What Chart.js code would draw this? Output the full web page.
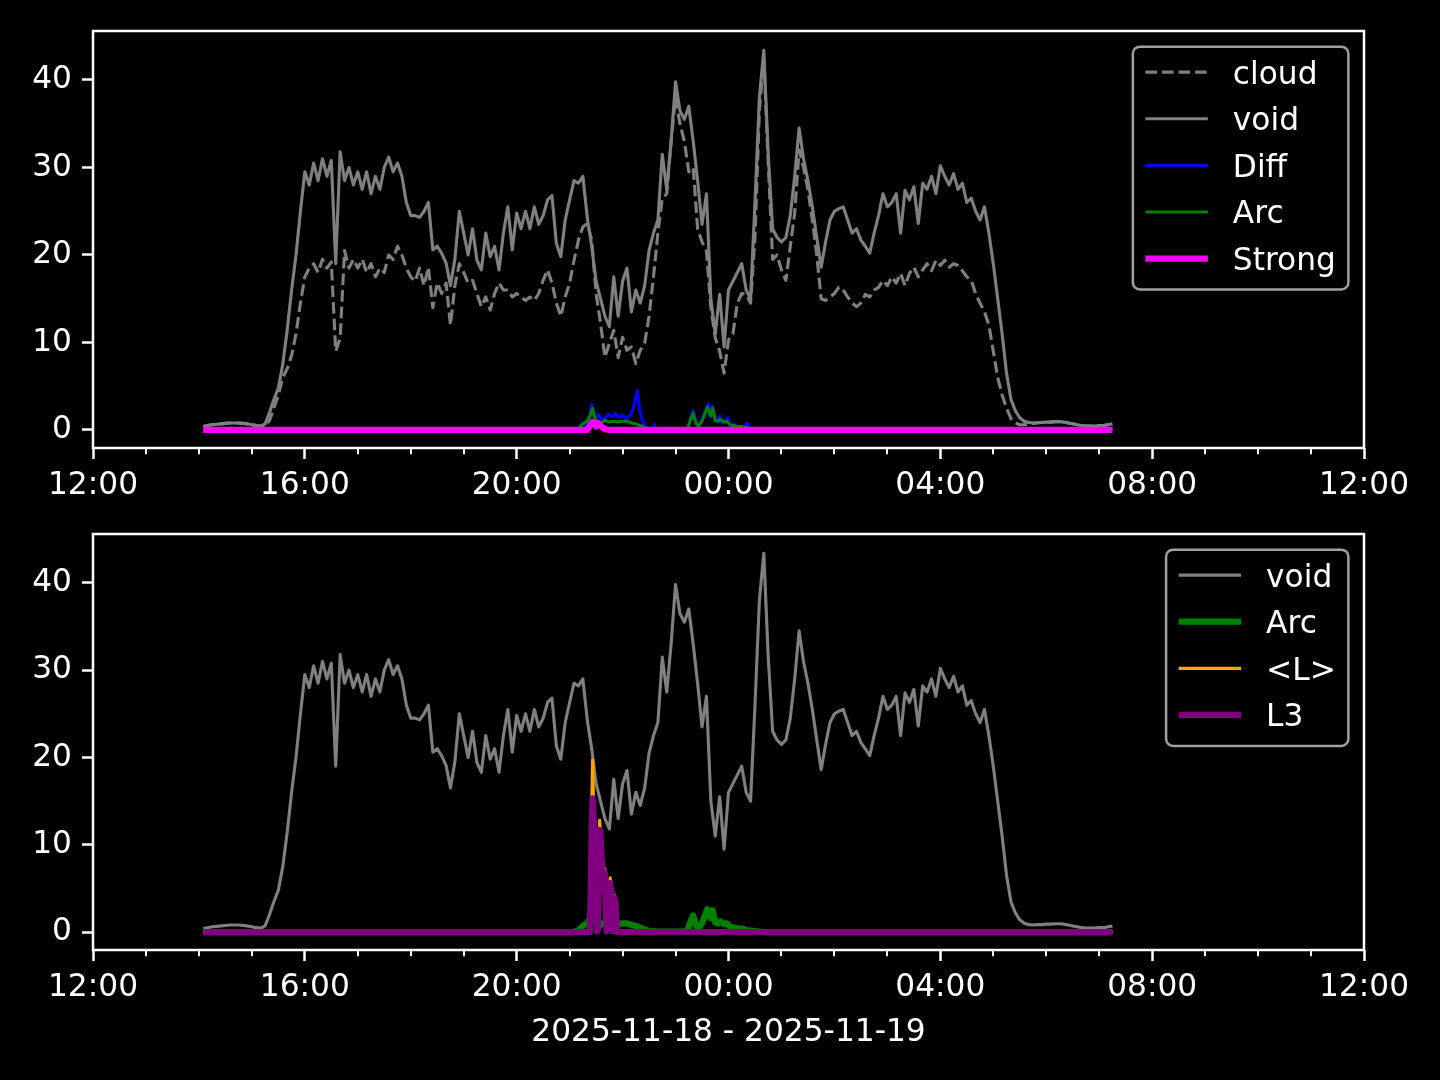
<!DOCTYPE html>
<html><head><meta charset="utf-8">
<script src="https://cdn.jsdelivr.net/npm/chart.js@4.4.1/dist/chart.umd.min.js"></script>
<style>
html,body{margin:0;padding:0;background:#000;width:1440px;height:1080px;overflow:hidden}
canvas{position:absolute;left:0}
#c1{top:0}
#c2{top:490px}
</style></head><body>
<canvas id="c1" width="1440" height="520"></canvas>
<canvas id="c2" width="1440" height="590"></canvas>
<script>
// ---------------- data ----------------
const gridStart = '14:05';      // first sample of the 5-minute series
const gridStepMin = 5;

const voidValues = [
  0.4,0.5,0.6,0.65,0.7,0.75,0.8,0.8,0.8,0.75,0.7,0.6,          // 14:05-15:00
  0.5,0.45,0.7,2.0,3.5,4.8,7.5,11.4,16.0,20.0,25.0,29.5,         // 15:05-16:00
  28.0,30.5,28.5,31.0,29.0,30.8,19.0,31.8,28.5,30.0,28.0,29.5,   // 16:05-17:00
  27.5,29.5,27.0,29.0,27.5,30.0,31.2,29.5,30.5,29.0,26.0,24.5,   // 17:05-18:00
  24.5,24.3,25.0,26.0,20.6,21.0,20.2,19.1,16.5,19.5,25.0,22.5,   // 18:05-19:00
  20.0,23.0,19.4,18.3,22.5,19.8,21.0,18.3,22.5,25.5,20.6,24.8,   // 19:05-20:00
  23.0,25.0,23.0,25.5,23.5,24.5,26.3,26.8,21.3,19.8,24.0,26.3,   // 20:05-21:00
  28.5,28.2,29.0,24.3,21.0,17.0,15.0,13.0,11.8,17.5,13.0,17.0,   // 21:05-22:00
  18.5,13.5,16.0,14.5,16.5,20.5,22.5,24.0,31.5,27.5,33.0,39.8,   // 22:05-23:00
  36.5,35.5,37.0,33.0,28.5,23.5,27.0,15.0,11.0,15.5,9.5,16.0,    // 23:05-00:00
  17.0,18.0,19.0,16.0,15.0,26.0,38.0,43.4,31.5,23.0,22.0,21.5,   // 00:05-01:00
  22.0,24.5,29.0,34.5,31.0,28.5,25.5,22.0,18.6,21.5,24.0,25.0,   // 01:05-02:00
  25.3,25.5,24.0,22.5,23.0,21.7,21.0,20.2,22.5,24.5,27.0,25.5,   // 02:05-03:00
  26.0,27.0,22.5,27.4,26.3,27.8,23.6,28.2,27.5,29.0,27.0,30.2,   // 03:05-04:00
  29.0,28.0,29.3,27.5,28.2,26.0,26.5,25.0,24.0,25.5,22.5,19.0,   // 04:05-05:00
  15.0,11.0,6.5,3.5,2.2,1.4,1.0,0.85,0.8,0.85,0.85,0.9,          // 05:05-06:00
  0.9,0.95,0.95,0.9,0.8,0.7,0.6,0.5,0.45,0.45,0.45,0.5,          // 06:05-07:00
  0.5,0.6,0.7                                                     // 07:05-07:15
];
const cloudValues = [
  0.4,0.5,0.6,0.65,0.7,0.75,0.8,0.8,0.8,0.75,0.7,0.6,
  0.5,0.45,0.4,1.1,2.5,4.0,6.0,7.0,8.5,11.0,14.5,17.5,
  18.5,19.0,18.0,19.5,18.5,19.2,9.0,10.5,20.5,18.5,19.5,18.5,
  19.5,18.0,19.0,17.5,18.5,18.0,20.0,19.5,21.0,20.0,18.5,17.5,
  17.0,18.5,16.5,18.6,14.0,16.8,15.6,16.8,12.0,16.5,19.0,18.0,
  16.8,17.1,15.6,14.1,15.2,13.7,15.6,16.8,16.0,16.0,15.2,15.6,
  15.2,14.8,15.2,14.8,15.6,17.1,18.3,16.8,14.5,13.0,15.2,16.8,
  19.4,21.7,23.2,23.6,21.7,15.6,12.2,8.3,9.9,11.4,8.3,10.6,
  9.1,9.5,7.6,9.1,9.9,13.0,17.5,22.5,26.5,27.0,33.0,38.0,
  35.0,33.0,29.5,30.0,23.0,21.5,20.5,14.0,10.5,9.0,6.5,10.3,
  11.0,14.5,15.6,15.5,14.5,22.0,36.5,42.5,30.5,19.5,20.0,18.3,
  17.1,21.0,24.8,32.0,30.0,27.5,24.0,20.0,15.0,14.8,15.2,15.6,
  16.3,16.0,15.2,14.5,14.1,14.5,15.5,15.2,16.0,16.3,17.1,16.5,
  17.5,16.8,17.9,16.5,17.9,18.6,17.5,18.3,19.0,18.2,19.4,18.8,
  19.4,18.6,19.0,18.8,18.2,17.5,17.1,15.6,14.5,13.5,12.0,9.0,
  6.0,4.0,2.5,1.3,0.8,0.6,0.6,0.7,0.75,0.8,0.85,0.9,
  0.9,0.95,0.95,0.9,0.8,0.7,0.6,0.5,0.45,0.45,0.45,0.5,
  0.5,0.6,0.7
];

const diffTimes = ['14:05','21:12','21:18','21:22','21:25','21:27','21:30','21:33','21:36','21:40','21:44','21:48','21:52','21:56','22:00','22:04','22:08','22:12','22:15','22:17','22:19','22:22','22:25','22:28','22:34','22:36','22:38','23:10','23:14','23:18','23:20','23:23','23:25','23:28','23:31','23:34','23:37','23:39','23:42','23:45','23:48','23:50','23:53','23:56','23:59','00:02','00:06','00:10','00:14','00:18','00:21','00:24','00:30','00:36','00:40','07:15'];
const diffValues = [0,0,0.3,1.0,2.9,2.0,1.5,1.8,1.0,1.4,1.8,1.5,1.9,1.4,1.7,1.3,1.6,2.4,3.8,4.5,2.5,1.2,0.4,0.05,0.1,0.6,0.05,0,0.3,1.5,2.2,1.0,0.4,0.8,1.5,2.2,3.0,1.6,2.7,1.2,1.0,1.6,0.8,1.0,1.4,0.5,0.6,0.3,0.4,0.3,0.8,0.2,0.1,0.2,0,0];

const arcTimes = ['14:05','21:05','21:10','21:15','21:20','21:23','21:26','21:28','21:31','21:35','21:40','21:45','21:50','21:55','22:00','22:05','22:10','22:15','22:20','22:25','22:30','22:40','23:10','23:14','23:17','23:20','23:23','23:26','23:30','23:33','23:36','23:38','23:40','23:42','23:45','23:48','23:51','23:55','23:58','00:02','00:06','00:10','00:14','00:18','00:22','00:30','00:40','07:15'];
const arcValues = [0,0,0.2,0.7,1.0,1.6,2.5,1.5,1.0,0.8,1.1,0.9,1.0,0.9,1.0,1.0,0.8,0.7,0.5,0.3,0.1,0.05,0.05,0.3,1.2,1.9,0.8,0.4,1.0,1.8,2.6,2.2,1.6,2.5,1.1,1.0,1.2,0.9,1.0,0.6,0.5,0.4,0.4,0.3,0.2,0.1,0,0];

const strongTimes = ['14:05','21:20','21:23','21:26','21:28','21:30','21:32','21:34','21:37','21:40','21:45','07:15'];
const strongValues = [0,0,0.5,0.9,0.7,0.4,0.8,0.6,0.3,0.1,0,0];

const lTimes = ['14:05','21:22','21:23','21:24','21:25','21:26','21:27','21:28','21:29','21:30','21:31','21:32','21:33','21:34','21:35','21:36','21:37','21:38','21:39','21:40','21:41','21:42','21:43','21:44','21:45','21:46','21:47','21:48','21:49','21:50','21:51','21:52','21:53','21:54','21:55','07:15'];
const lMeanValues = [0,0,1.0,6.0,14.0,19.7,15.0,12.0,8.0,3.0,0.2,0.3,8.0,12.8,11.5,10.0,8.5,7.3,6.0,7.3,3.0,0.2,0.5,4.0,5.5,6.2,5.0,2.0,0.2,3.0,4.2,3.8,2.0,0.1,0,0];
const l3Values = [0,0,0.8,5.0,12.0,15.3,13.5,11.0,7.0,2.5,0.1,0.2,7.0,11.7,11.0,9.0,7.5,6.7,5.0,6.7,2.5,0.1,0.4,3.5,5.0,5.6,4.5,1.5,0.1,2.5,3.9,3.5,1.5,0,0,0];

const xTickHours = [0,4,8,12,16,20,24];              // hours after 2025-11-18 12:00
const xTickLabels = ['12:00','16:00','20:00','00:00','04:00','08:00','12:00'];
const yTicks = [0,10,20,30,40];
const yRange = [-2.06, 45.6];
const xLabel = '2025-11-18 - 2025-11-19';

// ---------------- helpers ----------------
function toHours(t){ const p=t.split(':').map(Number); let v=p[0]+p[1]/60; if(v<12) v+=24; return v-12; }
const gridTimes = voidValues.map((_,i)=> (toHours(gridStart)*60 + i*gridStepMin)/60);
function pts(times, values){ return values.map((v,i)=>({x: typeof times[i]==='number'? times[i] : toHours(times[i]), y: v})); }

const FS = 31.25;
Chart.defaults.font.family = '"DejaVu Sans", sans-serif';
Chart.defaults.font.size = FS;
Chart.defaults.color = '#ffffff';

const minorHours = [];
for (let h=0; h<=24; h++) if (h%4!==0) minorHours.push(h);

const mplPlugin = {
  id:'mpl',
  afterDatasetsDraw(chart){
    const {ctx, chartArea:a} = chart; const x = chart.scales.x;
    ctx.save();
    ctx.strokeStyle='#ffffff'; ctx.lineWidth=2.5;
    ctx.strokeRect(a.left, a.top, a.right-a.left, a.bottom-a.top);
    ctx.lineWidth=1.9;
    minorHours.forEach(h=>{ const px=Math.round(x.getPixelForValue(h)); ctx.beginPath(); ctx.moveTo(px,a.bottom); ctx.lineTo(px,a.bottom+6.25); ctx.stroke(); });
    // legend (matplotlib style, upper right)
    const ds = chart.data.datasets;
    ctx.font = FS+'px "DejaVu Sans"';
    const textW = Math.max(...ds.map(d=>ctx.measureText(d.label).width));
    const pad=0.4*FS, hl=2*FS, tp=0.8*FS;
    const w = pad+hl+tp+textW+pad;
    const right = a.right-0.5*FS, left=right-w, top=a.top+0.5*FS;
    const rowH=46.6, first=25.5;
    const h = first+(ds.length-1)*rowH+31;
    ctx.beginPath(); ctx.roundRect(left, top, w, h, 7);
    ctx.fillStyle='rgba(0,0,0,0.8)'; ctx.fill();
    ctx.strokeStyle='#a0a0a0'; ctx.lineWidth=2.5; ctx.stroke();
    ds.forEach((d,i)=>{
      const cy = top+first+i*rowH;
      ctx.beginPath(); ctx.strokeStyle=d.borderColor; ctx.lineWidth=d.borderWidth;
      ctx.setLineDash(d.borderDash||[]); ctx.lineCap='butt';
      ctx.moveTo(left+pad, cy); ctx.lineTo(left+pad+hl, cy); ctx.stroke();
      ctx.setLineDash([]);
      ctx.fillStyle='#ffffff'; ctx.textBaseline='alphabetic'; ctx.textAlign='left';
      ctx.fillText(d.label, left+pad+hl+tp, cy+11.4);
    });
    ctx.restore();
  }
};

function line(label, times, values, color, width, dash){
  return {label, data: pts(times, values), borderColor: color, borderWidth: width, borderDash: dash||[],
          pointRadius:0, tension:0, fill:false, borderJoinStyle:'round', borderCapStyle:'butt'};
}

function makeChart(id, datasets, padTop, xHeight, withTitle){
  datasets.forEach((d,i)=>{ d.order = datasets.length-1-i; });
  return new Chart(document.getElementById(id), {
    type:'line',
    data:{datasets},
    plugins:[mplPlugin],
    options:{
      responsive:false, animation:false, devicePixelRatio:1, events:[],
      layout:{padding:{left:0,right:76,top:padTop,bottom:0}},
      plugins:{legend:{display:false}, tooltip:{enabled:false}},
      scales:{
        x:{type:'linear', min:xTickHours[0], max:xTickHours[xTickHours.length-1],
           afterBuildTicks:s=>{ s.ticks = xTickHours.map(v=>({value:v})); },
           afterFit:s=>{ s.height = xHeight; s.paddingLeft = 0; s.paddingRight = 0; },
           ticks:{autoSkip:false, maxRotation:0, color:'#ffffff', padding:8,
                  callback:(v)=> xTickLabels[xTickHours.indexOf(v)]},
           grid:{display:true, drawOnChartArea:false, drawTicks:true, tickLength:11, tickColor:'#ffffff', tickWidth:2.5},
           border:{display:false},
           title: withTitle ? {display:true, text:xLabel, color:'#ffffff', font:{size:FS}, padding:{top:0,bottom:28}} : {display:false}
        },
        y:{type:'linear', min:yRange[0], max:yRange[1],
           afterBuildTicks:s=>{ s.ticks = yTicks.map(v=>({value:v})); },
           afterFit:s=>{ s.width = 93; s.paddingTop = 0; s.paddingBottom = 0; },
           ticks:{color:'#ffffff', padding:10},
           grid:{display:true, drawOnChartArea:false, drawTicks:true, tickLength:11, tickColor:'#ffffff', tickWidth:2.5},
           border:{display:false}
        }
      }
    }
  });
}

makeChart('c1', [
  line('cloud', gridTimes, cloudValues, '#808080', 3.1, [11.6,5]),
  line('void', gridTimes, voidValues, '#808080', 3.1),
  line('Diff', diffTimes, diffValues, '#0000ff', 3.1),
  line('Arc', arcTimes, arcValues, '#008000', 3.1),
  line('Strong', strongTimes, strongValues, '#ff00ff', 6.25)
], 31, 72, false);

makeChart('c2', [
  line('void', gridTimes, voidValues, '#808080', 3.1),
  line('Arc', arcTimes, arcValues, '#008000', 6.25),
  line('<L>', lTimes, lMeanValues, '#ffa500', 3.1),
  line('L3', lTimes, l3Values, '#800080', 6.25)
], 44, 130, true);
</script>
</body></html>
